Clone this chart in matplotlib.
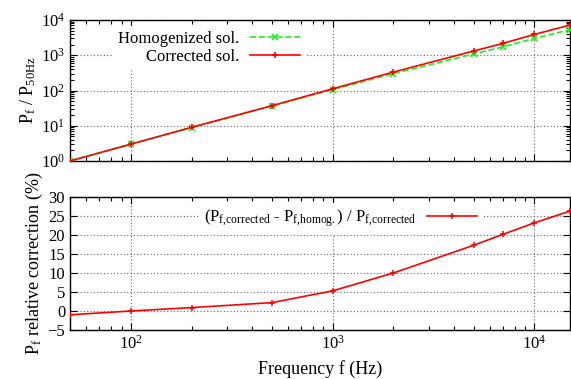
import numpy as np
import matplotlib
matplotlib.use("Agg")
import matplotlib.pyplot as plt
from matplotlib.ticker import LogLocator, MultipleLocator, NullFormatter

plt.rcParams['font.family'] = ['Liberation Serif', 'DejaVu Serif']
plt.rcParams['mathtext.fontset'] = 'custom'
plt.rcParams['mathtext.rm'] = 'Liberation Serif'
plt.rcParams['mathtext.it'] = 'Liberation Serif'
plt.rcParams['font.size'] = 12

### data
freq = [50, 100, 200, 500, 1000, 2000, 5000, 7000, 10000, 15000]
p_corrected = [1.0, 3.0, 9.0, 37, 112, 333, 1320, 2180, 3900, 7200]
p_homog = [1.01, 3.0, 8.9, 36.2, 106, 300, 1090, 1740, 3000, 5300]
rel_corr = [-1.0, 0.0, 0.9, 2.2, 5.3, 10.0, 17.3, 20.2, 23.2, 26.3]

RED = '#ff0000'
GREEN = '#22ee22'

fig = plt.figure(figsize=(5.71, 3.79), dpi=100)
ax1 = fig.add_axes([70/571, 1 - 161/379, 500/571, 141/379])
ax2 = fig.add_axes([70/571, 1 - 330/379, 500/571, 133/379])


def style_axes(ax):
    ax.tick_params(which='both', direction='in', top=True, right=True)
    ax.tick_params(which='major', length=5, width=0.8)
    ax.tick_params(which='minor', length=3, width=0.8)
    ax.grid(True, which='major', linestyle=(0, (1, 2)), color='#666666', linewidth=0.8)
    for s in ax.spines.values():
        s.set_linewidth(1.0)


### top panel
ax1.plot(freq, p_homog, color=GREEN, linestyle='--', linewidth=1.2, marker='x',
         markersize=4, markeredgewidth=1.2, label='Homogenized sol.', zorder=5)
ax1.plot(freq, p_corrected, color=RED, linestyle='-', linewidth=1.2, marker='+',
         markersize=5, markeredgewidth=1.2, label='Corrected sol.', zorder=6)
ax1.set_xscale('log')
ax1.set_yscale('log')
ax1.set_xlim(50, 15000)
ax1.set_ylim(1, 1e4)
ax1.xaxis.set_major_locator(LogLocator(base=10, numticks=10))
ax1.xaxis.set_minor_locator(LogLocator(base=10, subs=np.arange(2, 10), numticks=10))
ax1.yaxis.set_major_locator(LogLocator(base=10, numticks=10))
ax1.yaxis.set_minor_locator(LogLocator(base=10, subs=np.arange(2, 10), numticks=10))
ax1.xaxis.set_major_formatter(NullFormatter())
ax1.xaxis.set_minor_formatter(NullFormatter())
ax1.yaxis.set_minor_formatter(NullFormatter())
style_axes(ax1)
ax1.set_ylabel(r'P$_\mathrm{f}$ / P$_\mathrm{50Hz}$', fontsize=13, labelpad=2)
leg1 = ax1.legend(loc='upper left', bbox_to_anchor=(0.07, 1.02), markerfirst=False,
                  frameon=True, fancybox=False, edgecolor='none', facecolor='white',
                  framealpha=1.0, handlelength=3.0, handletextpad=0.6,
                  borderpad=0.3, labelspacing=0.15, fontsize=12)
leg1.set_zorder(4)

### bottom panel
ax2.plot(freq, rel_corr, color=RED, linestyle='-', linewidth=1.2, marker='+',
         markersize=5, markeredgewidth=1.1,
         label=r'(P$_\mathrm{f{,}corrected}$ - P$_\mathrm{f{,}homog.}$) / P$_\mathrm{f{,}corrected}$',
         zorder=6)
ax2.set_xscale('log')
ax2.set_xlim(50, 15000)
ax2.set_ylim(-5, 30)
ax2.xaxis.set_major_locator(LogLocator(base=10, numticks=10))
ax2.xaxis.set_minor_locator(LogLocator(base=10, subs=np.arange(2, 10), numticks=10))
ax2.xaxis.set_minor_formatter(NullFormatter())
ax2.yaxis.set_major_locator(MultipleLocator(5))
style_axes(ax2)
ax2.set_ylabel(r'P$_\mathrm{f}$ relative correction (%)', fontsize=13, labelpad=2)
ax2.set_xlabel('Frequency f (Hz)', fontsize=13, labelpad=5)
leg2 = ax2.legend(loc='upper right', bbox_to_anchor=(0.84, 1.02), markerfirst=False,
                  frameon=True, fancybox=False, edgecolor='none', facecolor='white',
                  framealpha=1.0, handlelength=3.0, handletextpad=0.6,
                  borderpad=0.3, fontsize=12)
leg2.set_zorder(4)

fig.savefig('out.png', dpi=100)
